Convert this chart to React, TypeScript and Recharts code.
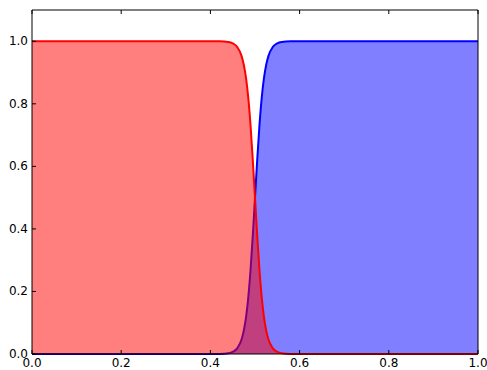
import { useEffect } from "react";
import { Area, ComposedChart, XAxis, YAxis } from "recharts";

// x positions (denser around the crossover at 0.5)
const xs = [
  0, 0.1, 0.2, 0.3, 0.4, 0.42, 0.44, 0.45, 0.46, 0.47, 0.475, 0.48, 0.485,
  0.49, 0.495, 0.5, 0.505, 0.51, 0.515, 0.52, 0.525, 0.53, 0.54, 0.55, 0.56,
  0.58, 0.6, 0.7, 0.8, 0.9, 1.0,
];
// red curve: stays at 1, falls through 0.5 at x=0.5
const redValues = [
  1, 1, 1, 1, 1, 0.9997, 0.9975, 0.9933, 0.982, 0.9526, 0.924, 0.881, 0.818,
  0.731, 0.622, 0.5, 0.378, 0.269, 0.182, 0.119, 0.076, 0.047, 0.018, 0.0067,
  0.0025, 0.0003, 0, 0, 0, 0, 0,
];
// blue curve: mirror image, rises from 0 to 1
const blueValues = [
  0, 0, 0, 0, 0, 0.0003, 0.0025, 0.0067, 0.018, 0.047, 0.076, 0.119, 0.182,
  0.269, 0.378, 0.5, 0.622, 0.731, 0.818, 0.881, 0.924, 0.9526, 0.982, 0.9933,
  0.9975, 0.9997, 1, 1, 1, 1, 1,
];
const xTicks = [0, 0.2, 0.4, 0.6, 0.8, 1.0];
const yTicks = [0, 0.2, 0.4, 0.6, 0.8, 1.0];

const W = 487;
const H = 370;
const LEFT = 32;
const RIGHT = 478;
const TOP = 10;
const BOTTOM = 354;
const TICK = 4;
const FONT = "'DejaVu Sans', sans-serif";

const rows = xs.map((x, i) => ({ x, red: redValues[i], blue: blueValues[i] }));

const BottomTick = (props: any) => {
  const x = props.payload.coordinate;
  return (
    <g>
      <line x1={x} x2={x} y1={BOTTOM} y2={BOTTOM - TICK} stroke="#000" />
      <text x={x} y={367} textAnchor="middle" fontSize={12} fontFamily={FONT} fill="#000">
        {Number(props.payload.value).toFixed(1)}
      </text>
    </g>
  );
};

const TopTick = (props: any) => {
  const x = props.payload.coordinate;
  return <line x1={x} x2={x} y1={TOP} y2={TOP + TICK} stroke="#000" />;
};

const LeftTick = (props: any) => {
  const y = props.payload.coordinate;
  return (
    <g>
      <line x1={LEFT} x2={LEFT + TICK} y1={y} y2={y} stroke="#000" />
      <text x={28} y={y + 4} textAnchor="end" fontSize={12} fontFamily={FONT} fill="#000">
        {Number(props.payload.value).toFixed(1)}
      </text>
    </g>
  );
};

const RightTick = (props: any) => {
  const y = props.payload.coordinate;
  return <line x1={RIGHT} x2={RIGHT - TICK} y1={y} y2={y} stroke="#000" />;
};

export default function App() {
  useEffect(() => {
    document.body.style.margin = "0";
  }, []);

  return (
    <div style={{ width: W, height: H, background: "#fff" }}>
      <ComposedChart
        width={W}
        height={H}
        data={rows}
        margin={{ top: TOP - 1, right: W - RIGHT - 1, bottom: 0, left: 0 }}
      >
        <XAxis
          xAxisId="b"
          dataKey="x"
          type="number"
          domain={[0, 1]}
          ticks={xTicks}
          height={H - BOTTOM}
          tick={BottomTick}
          tickLine={false}
          axisLine={{ stroke: "#000" }}
          interval={0}
        />
        <XAxis
          xAxisId="t"
          orientation="top"
          dataKey="x"
          type="number"
          domain={[0, 1]}
          ticks={xTicks}
          height={1}
          tick={TopTick}
          tickLine={false}
          axisLine={{ stroke: "#000" }}
          interval={0}
        />
        <YAxis
          yAxisId="l"
          type="number"
          domain={[0, 1.1]}
          ticks={yTicks}
          width={LEFT}
          tick={LeftTick}
          tickLine={false}
          axisLine={{ stroke: "#000" }}
          interval={0}
        />
        <YAxis
          yAxisId="r"
          orientation="right"
          type="number"
          domain={[0, 1.1]}
          ticks={yTicks}
          width={1}
          tick={RightTick}
          tickLine={false}
          axisLine={{ stroke: "#000" }}
          interval={0}
        />
        <Area
          xAxisId="b"
          yAxisId="l"
          type="monotone"
          dataKey="blue"
          stroke="#0000ff"
          strokeWidth={2}
          fill="#0000ff"
          fillOpacity={0.5}
          baseValue={0}
          isAnimationActive={false}
          dot={false}
          activeDot={false}
        />
        <Area
          xAxisId="b"
          yAxisId="l"
          type="monotone"
          dataKey="red"
          stroke="#ff0000"
          strokeWidth={2}
          fill="#ff0000"
          fillOpacity={0.5}
          baseValue={0}
          isAnimationActive={false}
          dot={false}
          activeDot={false}
        />
      </ComposedChart>
    </div>
  );
}
